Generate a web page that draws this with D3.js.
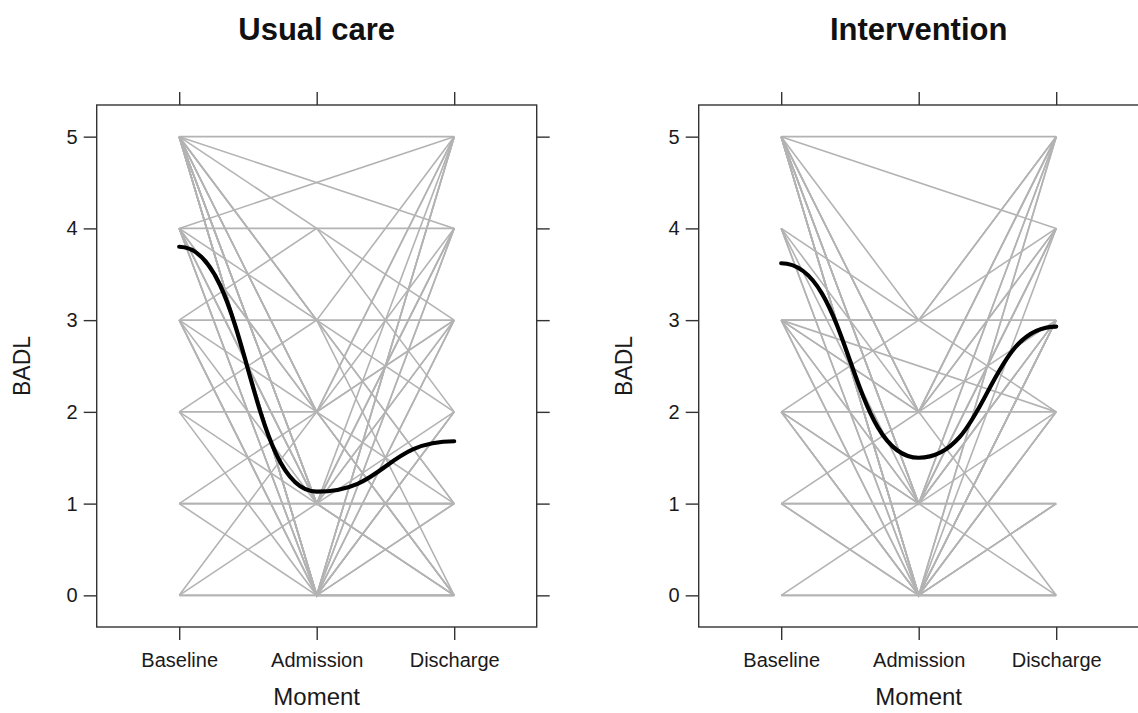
<!DOCTYPE html>
<html>
<head>
<meta charset="utf-8">
<script src="https://cdn.jsdelivr.net/npm/d3@7"></script>
<style>
  body { margin: 0; background: #fff; }
  svg { display: block; font-family: "Liberation Sans", Arial, Helvetica, sans-serif; }
</style>
</head>
<body>
<svg id="chart" width="1138" height="713"></svg>
<script>
// ---- data ----
const moments = ["Baseline", "Admission", "Discharge"];
const panelTitles = ["Usual care", "Intervention"];
const yTicks = [0, 1, 2, 3, 4, 5];

// individual trajectories [baseline, admission, discharge]; null = missing
const usualCare = [
  [5, null, 5], [4, null, 4], [3, 3, 3], [1, 1, 1], [0, 0, 0],
  [5, 0, 0], [5, 0, 1], [5, 0, 2], [5, 1, 3], [5, 1, 0],
  [5, 2, 1], [5, 0, 4], [5, 3, 5], [5, 1, 2], [5, 2, 4],
  [5, null, 4], [4, null, 5], [4, 0, 0], [4, 1, 1], [4, 2, 3],
  [4, 0, 5], [4, 1, 0], [4, 3, 1], [5, 0, 3], [3, 0, 1],
  [3, 1, 0], [3, 2, 5], [3, 0, 3], [3, 4, 2], [2, 0, 0],
  [2, 1, 4], [2, 3, 1], [1, 0, 2], [1, 2, 0], [0, 1, 1],
  [0, 2, 3], [5, 4, 3], [5, 1, 5], [4, 0, 2], [5, 2, 0],
  [5, 0, 5], [5, 1, 4], [4, 2, 0], [5, 3, 0], [4, 1, 4],
  [3, 0, 5], [2, 2, 5], [1, 1, 3], [0, 0, 4], [5, 3, 2]
];
const intervention = [
  [5, null, 5], [3, 3, 3], [1, 1, 1], [0, 0, 0], [5, 0, 0],
  [5, 0, 3], [5, 1, 4], [5, 2, 5], [5, 0, 5], [5, 3, 2],
  [5, 1, 2], [5, 2, 3], [5, null, 4], [4, 1, 3], [4, 0, 2],
  [4, 2, 4], [3, 0, 1], [3, 1, 5], [3, 2, 0], [3, 0, 3],
  [3, null, 2], [2, 0, 1], [2, 1, 3], [2, 3, 4], [2, 2, 2],
  [1, 0, 3], [1, 2, 5], [0, 0, 2], [5, 1, 1], [5, 0, 2],
  [4, 3, 5], [3, 1, 4], [2, 0, 5], [1, 0, 0], [5, 2, 4],
  [5, 1, 5], [4, 0, 4], [3, 2, 5], [2, 1, 0], [1, 1, 4],
  [0, 1, 3], [5, 0, 1], [3, 3, 5], [2, 0, 3]
];
// smooth trend values read at each moment
const trendUsual = [3.8, 1.13, 1.68];
const trendIntervention = [3.62, 1.5, 2.93];

const panels = [
  { title: panelTitles[0], subjects: usualCare, trend: trendUsual, x0: 96.7 },
  { title: panelTitles[1], subjects: intervention, trend: trendIntervention, x0: 698.7 }
];

const svg = d3.select("#chart");
const W = 440, yTop = 105, yBottom = 627, tickLen = 13;
const y = d3.scaleLinear().domain([-0.345, 5.345]).range([yBottom, yTop]);

panels.forEach(p => {
  const x = d3.scalePoint().domain(moments).range([p.x0, p.x0 + W]).padding(0.6);
  const g = svg.append("g");

  const line = d3.line().x(d => x(d.m)).y(d => y(d.v));
  const toPts = arr => arr.map((v, i) => ({ m: moments[i], v })).filter(d => d.v !== null);

  // individual lines
  g.append("g").selectAll("path").data(p.subjects).join("path")
    .attr("d", s => line(toPts(s)))
    .attr("fill", "none")
    .attr("stroke", "#b3b3b3")
    .attr("stroke-width", 1.6);

  // trend curve
  const trendLine = d3.line().x(d => x(d.m)).y(d => y(d.v)).curve(d3.curveBumpX);
  g.append("path")
    .attr("d", trendLine(toPts(p.trend)))
    .attr("fill", "none")
    .attr("stroke", "#000")
    .attr("stroke-width", 4.2)
    .attr("stroke-linecap", "round");

  // box
  g.append("rect")
    .attr("x", p.x0).attr("y", yTop).attr("width", W).attr("height", yBottom - yTop)
    .attr("fill", "none").attr("stroke", "#333").attr("stroke-width", 1.4);

  // axes
  const axB = d3.axisBottom(x).tickSize(tickLen).tickPadding(8);
  const axT = d3.axisTop(x).tickSize(tickLen).tickFormat("");
  const axL = d3.axisLeft(y).tickValues(yTicks).tickSize(tickLen).tickPadding(6).tickFormat(d3.format("d"));
  const axR = d3.axisRight(y).tickValues(yTicks).tickSize(tickLen).tickFormat("");

  const styleAx = sel => {
    sel.select(".domain").remove();
    sel.selectAll(".tick line").attr("stroke", "#333").attr("stroke-width", 1.4);
    sel.selectAll(".tick text").attr("fill", "#1a1a1a").attr("font-size", 20)
      .attr("font-family", "Liberation Sans, Arial, sans-serif");
  };
  g.append("g").attr("transform", `translate(0,${yBottom})`).call(axB).call(styleAx)
    .selectAll(".tick text").attr("dy", "0.95em");
  g.append("g").attr("transform", `translate(0,${yTop})`).call(axT).call(styleAx);
  g.append("g").attr("transform", `translate(${p.x0},0)`).call(axL).call(styleAx);
  g.append("g").attr("transform", `translate(${p.x0 + W},0)`).call(axR).call(styleAx);

  // titles
  g.append("text").attr("x", p.x0 + W / 2).attr("y", 40)
    .attr("text-anchor", "middle").attr("font-weight", "bold").attr("font-size", 31)
    .attr("fill", "#111").text(p.title);
  g.append("text").attr("x", p.x0 + W / 2).attr("y", 705)
    .attr("text-anchor", "middle").attr("font-size", 24).attr("fill", "#1a1a1a").text("Moment");
  g.append("text").attr("transform", `translate(${p.x0 - 67},${(yTop + yBottom) / 2}) rotate(-90)`)
    .attr("text-anchor", "middle").attr("font-size", 23).attr("fill", "#1a1a1a").text("BADL");
});
</script>
</body>
</html>
